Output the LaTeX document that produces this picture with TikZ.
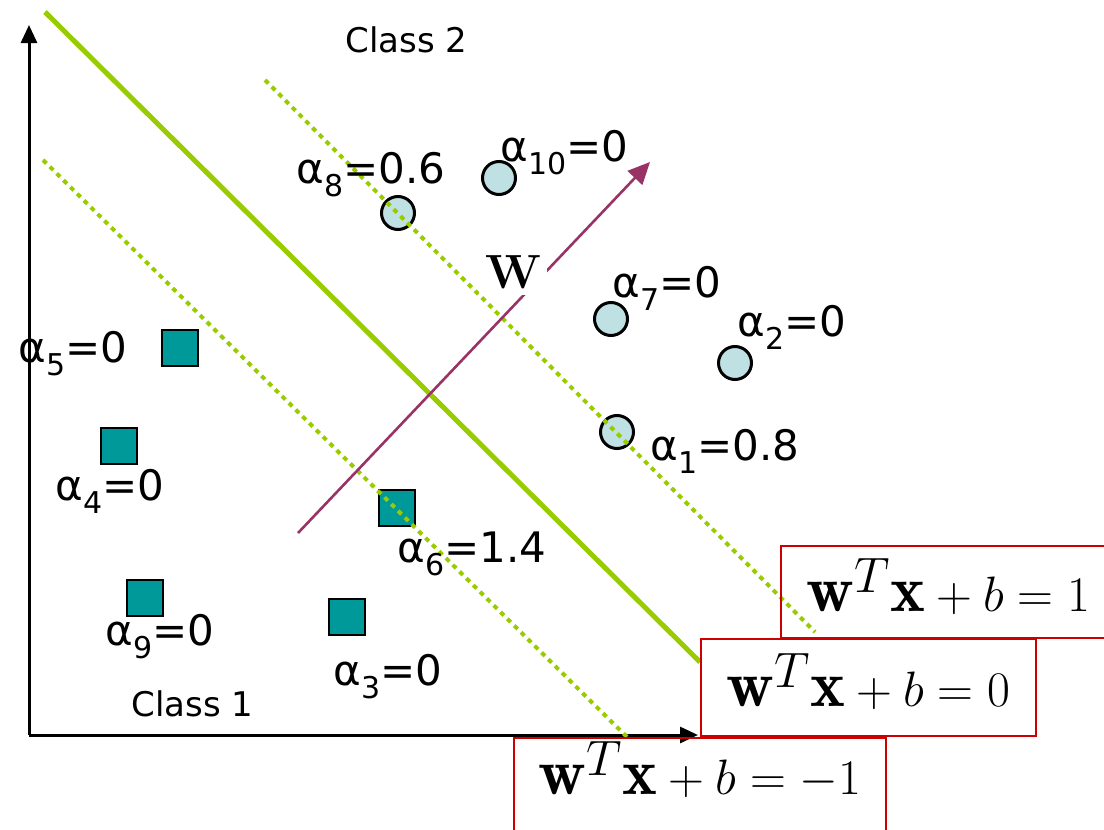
\documentclass[tikz,border=0pt]{standalone}
\usepackage{fontspec}
\newfontfamily\labelfont{DejaVu Sans}
\usetikzlibrary{arrows.meta}
\definecolor{cgreen}{HTML}{99CC00}
\definecolor{cplum}{HTML}{993366}
\definecolor{cteal}{HTML}{009999}
\definecolor{cice}{HTML}{BFE1E4}
\definecolor{cred}{HTML}{CC0000}
\newcommand{\alab}[2]{α\raisebox{-0.32em}{\fontsize{15}{15}\selectfont #1}=#2}
\tikzset{
  axis/.style={-{Triangle[length=9pt, width=8pt]}, line width=1.5pt},
  hyperplane/.style={draw=cgreen, line width=2.5pt},
  marginline/.style={draw=cgreen, line width=2pt, dash pattern=on 2.4pt off 2.4pt},
  wvec/.style={-{Triangle[length=11pt, width=10pt]}, draw=cplum, line width=1.3pt},
  ptcirc/.style={circle, draw=black, fill=cice, line width=1.5pt, minimum size=16.5pt, inner sep=0pt},
  ptsq/.style={rectangle, draw=black, fill=cteal, line width=1.4pt, minimum size=18pt, inner sep=0pt},
  weight/.style={font=\labelfont\fontsize{21}{21}\selectfont, anchor=base west, inner sep=0pt},
  classlab/.style={font=\labelfont\fontsize{17}{17}\selectfont, anchor=base west, inner sep=0pt},
  eqbox/.style={draw=cred, line width=1pt, anchor=north west, inner ysep=0pt, inner xsep=2pt, font=\fontsize{33}{38}\selectfont},
}
\begin{document}
\begin{tikzpicture}[x=0.5pt, y=-0.5pt]
  \useasboundingbox (0,0) rectangle (1104,830);
  \clip (0,0) rectangle (1104,830);
  % axes
  \coordinate (origin) at (29,735);
  \coordinate (ytip) at (29,25);
  \coordinate (xtip) at (698,735);
  \draw[axis] (origin) -- (ytip);
  \draw[axis] (origin) -- (xtip);
  % class 2 points
  \node[ptcirc] (c8) at (398,213) {};
  \node[ptcirc] (c10) at (499,178) {};
  \node[ptcirc] (c7) at (611,319) {};
  \node[ptcirc] (c2) at (735,363) {};
  \node[ptcirc] (c1) at (617,432) {};
  % class 1 points
  \node[ptsq] (s5) at (180,348) {};
  \node[ptsq] (s4) at (119,446) {};
  \node[ptsq] (s6) at (397,508) {};
  \node[ptsq] (s9) at (145,598) {};
  \node[ptsq] (s3) at (347,617) {};
  % separating lines
  \coordinate (h0a) at (45,12);
  \coordinate (h0b) at (700,662);
  \coordinate (h1a) at (265,80);
  \coordinate (h1b) at (815,632);
  \coordinate (hma) at (43,160);
  \coordinate (hmb) at (628,738);
  \draw[marginline] (h1a) -- (h1b);
  \draw[marginline] (hma) -- (hmb);
  \draw[hyperplane] (h0a) -- (h0b);
  % normal vector
  \coordinate (wtail) at (298,533);
  \coordinate (whead) at (650,162);
  \draw[wvec] (wtail) -- (whead);
  \node[fill=white, inner sep=3pt, font=\fontsize{24}{24}\selectfont\bfseries] (wlab) at (513,272) {W};
  % weights
  \node[weight] (l8) at (296,183) {\alab{8}{0.6}};
  \node[weight] (l10) at (500,161) {\alab{10}{0}};
  \node[weight] (l7) at (612,297) {\alab{7}{0}};
  \node[weight] (l2) at (737,336) {\alab{2}{0}};
  \node[weight] (l1) at (650,460) {\alab{1}{0.8}};
  \node[weight] (l5) at (18,362) {\alab{5}{0}};
  \node[weight] (l4) at (55,500) {\alab{4}{0}};
  \node[weight] (l6) at (397,562) {\alab{6}{1.4}};
  \node[weight] (l9) at (105,645) {\alab{9}{0}};
  \node[weight] (l3) at (333,685) {\alab{3}{0}};
  \node[classlab] (cls2) at (345,52) {Class 2};
  \node[classlab] (cls1) at (131,716) {Class 1};
  % equations
  \node[eqbox, minimum width=167.5pt, text height=32.5pt, text depth=13.5pt] (eqpos) at (780,545) {$\mathbf{w}^T\mathbf{x}+b=1$};
  \node[eqbox, minimum width=167.5pt, text height=33.5pt, text depth=15pt] (eqzero) at (700,638) {$\mathbf{w}^T\mathbf{x}+b=0$};
  \node[eqbox, minimum width=186pt, text height=28pt, text depth=30pt] (eqneg) at (513,737) {$\mathbf{w}^T\mathbf{x}+b=-1$};
\end{tikzpicture}
\end{document}
